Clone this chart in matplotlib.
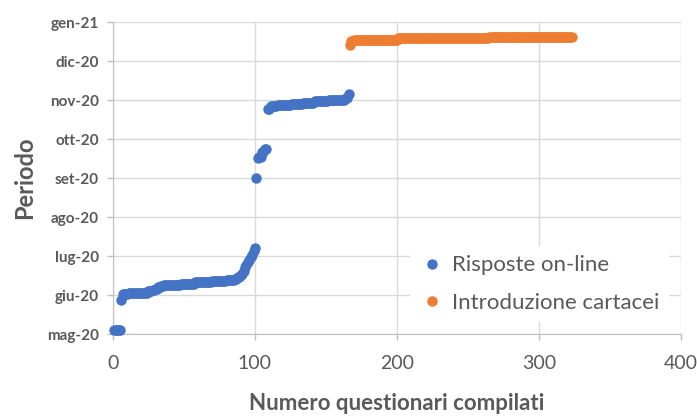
import numpy as np
from matplotlib import pyplot as plt

# days counted from 1 May 2020, and how many questionnaires fell on each day
online_day = [3, 27, 32, 33, 34, 35, 36, 37, 38, 39, 40, 41, 42, 43, 44, 45,
              47, 48, 50, 53, 55, 57, 59, 61, 63, 66, 68,
              124, 140, 141, 145, 147,
              179, 181, 182, 183, 184, 185, 186, 188, 191]
online_n = [5, 1, 4, 14, 3, 2, 2, 2, 2, 12, 10, 12, 10, 6, 2, 2,
            1, 1, 1, 1, 1, 1, 1, 1, 1, 1, 1,
            1, 1, 2, 2, 2,
            2, 5, 10, 8, 8, 10, 12, 2, 1]

paper_day = [230, 233, 234, 235, 236]
paper_n = [1, 2, 31, 64, 59]

month_labels = ['mag-20', 'giu-20', 'lug-20', 'ago-20', 'set-20',
                'ott-20', 'nov-20', 'dic-20', 'gen-21']
month_step = 31

blue = '#4472C4'
orange = '#ED7D31'
grey = '#595959'

plt.rcParams['font.family'] = ['Lato', 'DejaVu Sans']

# one point per questionnaire, numbered in order
y_online = np.repeat(online_day, online_n)
x_online = np.arange(1, len(y_online) + 1)
y_paper = np.repeat(paper_day, paper_n)
x_paper = np.arange(len(y_online) + 1, len(y_online) + len(y_paper) + 1)

fig = plt.figure(figsize=(6.97, 4.17), dpi=100)
ax = fig.add_axes([0.162, 0.199, 0.815, 0.748])

ax.plot(x_online, y_online, 'o', color=blue, ms=7.5, mec='none',
        label='Risposte on-line', clip_on=False, zorder=3)
ax.plot(x_paper, y_paper, 'o', color=orange, ms=7.5, mec='none',
        label='Introduzione cartacei', clip_on=False, zorder=3)

ax.set_xlim(0, 400)
ax.set_xticks([0, 100, 200, 300, 400])
ax.set_ylim(0, month_step * (len(month_labels) - 1))
ax.set_yticks([month_step * i for i in range(len(month_labels))])
ax.set_yticklabels(month_labels)

ax.grid(True, color='#D9D9D9', lw=1)
ax.set_axisbelow(True)
for s in ['top', 'right']:
    ax.spines[s].set_visible(False)
for s in ['left', 'bottom']:
    ax.spines[s].set_color('#BFBFBF')
ax.tick_params(axis='both', colors='#BFBFBF', length=4, width=1,
               labelcolor=grey, labelsize=11)
ax.tick_params(axis='y', pad=6)
ax.tick_params(axis='x', pad=11)
for t in ax.get_yticklabels():
    t.set_fontweight('bold')
for t in ax.get_xticklabels():
    t.set_fontsize(14)

ax.set_xlabel('Numero questionari compilati', fontsize=16, fontweight='bold',
              color=grey, labelpad=15)
ax.set_ylabel('Periodo', fontsize=17, fontweight='bold', color=grey,
              labelpad=8)

leg = ax.legend(loc='lower right', bbox_to_anchor=(0.99, 0.017), frameon=True,
                fontsize=16, labelcolor=grey, handletextpad=0.3,
                labelspacing=0.8, markerscale=1.0, handlelength=1.2,
                borderaxespad=0.3)
leg.get_frame().set_facecolor('white')
leg.get_frame().set_edgecolor('none')
leg.get_frame().set_alpha(1)

fig.savefig('out.png', dpi=100)
